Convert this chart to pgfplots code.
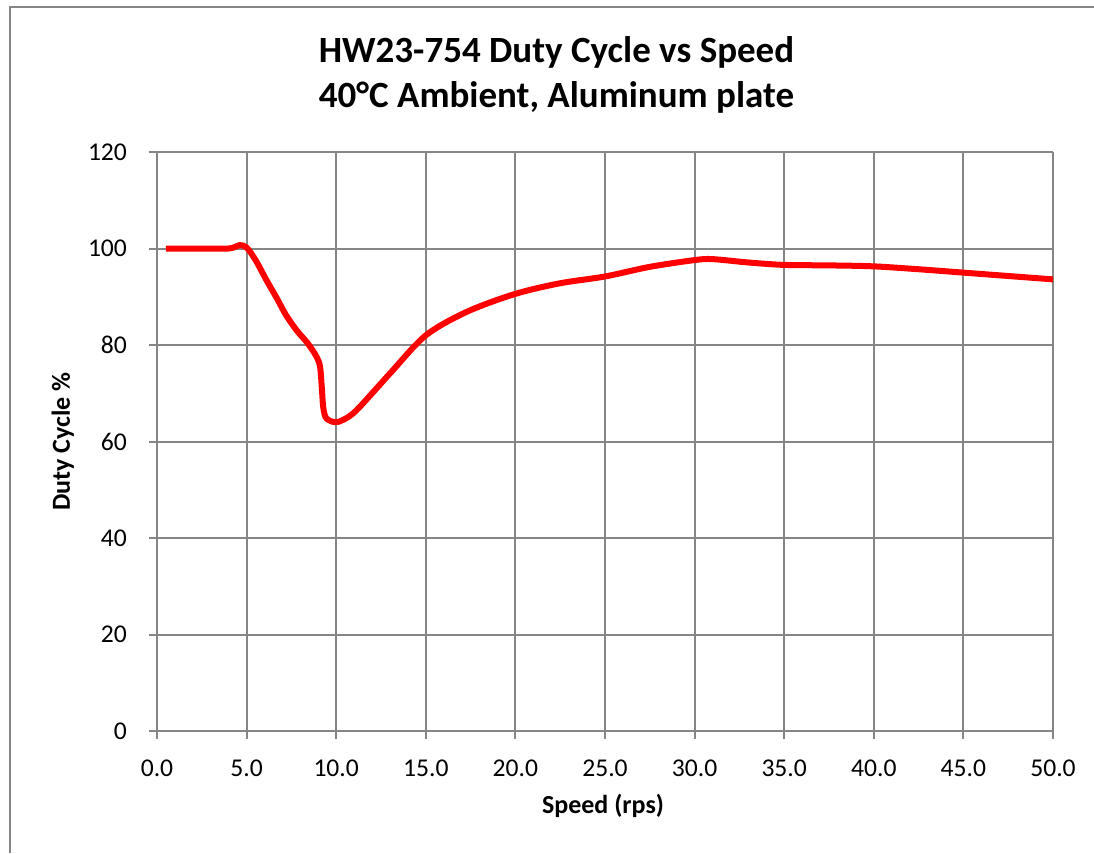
\documentclass[border=0pt]{standalone}
\usepackage{fontspec}
\setmainfont{Carlito}
\usepackage{pgfplots}
\pgfplotsset{compat=1.18}
\definecolor{gridgray}{RGB}{134,134,134}
\begin{document}
\begin{tikzpicture}
\useasboundingbox (-78.5pt,-61pt) rectangle (468.5pt,365.5pt);
\draw[gridgray, line width=0.8pt] (-73.5pt,-61pt) -- (-73.5pt,362pt) -- (468.5pt,362pt);
\begin{axis}[
  at={(0,0)}, anchor=south west,
  scale only axis, width=448pt, height=289.5pt,
  xmin=0, xmax=50, ymin=0, ymax=120,
  xtick={0,5,...,50}, ytick={0,20,...,120},
  grid=major, grid style={gridgray, line width=1pt},
  axis x line*=bottom, axis y line*=left,
  axis line style={gridgray, line width=1pt},
  tick style={gridgray, line width=1pt},
  tick align=outside, major tick length=4pt,
  /pgf/number format/assume math mode=true,
  ticklabel style={font=\fontsize{12.8}{15}\selectfont},
  xticklabel style={anchor=north, yshift=-7pt, /pgf/number format/.cd, fixed, fixed zerofill, precision=1},
  yticklabel style={anchor=east, xshift=-7.5pt, /pgf/number format/.cd, fixed, precision=0},
]
\addplot[red, line width=3pt, smooth, tension=0.5] coordinates {
(0.5,100) (2,100) (4,100) (4.6,100.7) (5.0,100.2) (5.5,97.6) (6.1,93.5)
(6.7,89.6) (7.2,86.2) (7.8,83.0) (8.4,80.4) (8.9,77.6) (9.1,75.5) (9.2,71)
(9.28,67) (9.45,64.8) (9.93,64.0) (10.4,64.5) (11.14,66.5) (13.0,74.1)
(15.0,82.0) (17.3,86.9) (20.0,90.6) (22.5,92.8) (25.0,94.2) (27.5,96.2)
(30.0,97.6) (31.0,97.8) (33.0,97.1) (35.0,96.6) (37.5,96.5) (40.0,96.3)
(42.5,95.7) (45.0,95.0) (47.5,94.3) (50.0,93.6)
};
\end{axis}
\node[anchor=base, font=\fontsize{18.5}{22}\selectfont\bfseries] at (199.75pt,334pt) {HW23-754 Duty Cycle vs Speed};
\node[anchor=base, font=\fontsize{18.5}{22}\selectfont\bfseries] at (199.75pt,311.5pt) {40°C Ambient, Aluminum plate};
\node[anchor=base, font=\fontsize{13}{15}\selectfont\bfseries] at (223pt,-41pt) {Speed (rps)};
\node[anchor=base, rotate=90, font=\fontsize{13}{15}\selectfont\bfseries] at (-43.5pt,144.75pt) {Duty Cycle \%};
\end{tikzpicture}
\end{document}
